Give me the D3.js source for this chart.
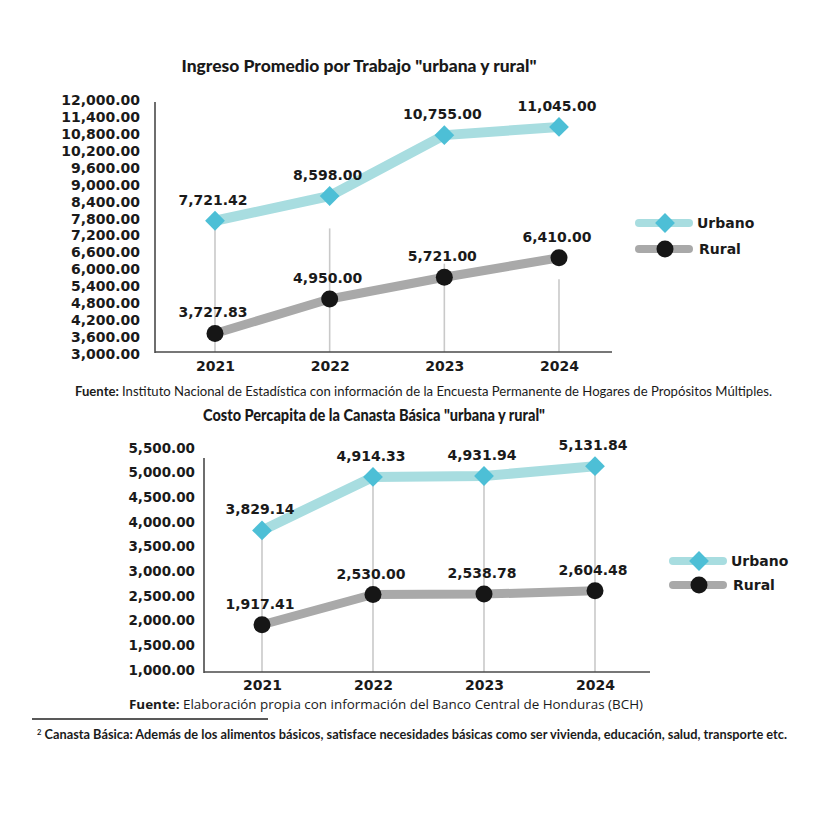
<!DOCTYPE html>
<html><head><meta charset="utf-8">
<script src="https://cdn.jsdelivr.net/npm/d3@7"></script>
<style>body{margin:0;background:#fff}svg{display:block}</style>
</head><body><svg id="c" width="828" height="829"></svg>
<script>
// ---- data ----
const years = ["2021", "2022", "2023", "2024"];
const seriesNames = ["Urbano", "Rural"];

const ingresoUrbano = [7721.42, 8598.00, 10755.00, 11045.00];
const ingresoRural = [3727.83, 4950.00, 5721.00, 6410.00];
const ingresoTicks = [3000, 3600, 4200, 4800, 5400, 6000, 6600, 7200, 7800, 8400, 9000, 9600, 10200, 10800, 11400, 12000];
const ingresoDropTop = [7721.42, 7450, 6200, 5650];

const canastaUrbano = [3829.14, 4914.33, 4931.94, 5131.84];
const canastaRural = [1917.41, 2530.00, 2538.78, 2604.48];
const canastaTicks = [1000, 1500, 2000, 2500, 3000, 3500, 4000, 4500, 5000, 5500];

const titleIngreso = 'Ingreso Promedio por Trabajo "urbana y rural"';
const titleCanasta = 'Costo Percapita de la Canasta Básica "urbana y rural"';
const fuente1 = "Instituto Nacional de Estadística con información de la Encuesta Permanente de Hogares de Propósitos Múltiples.";
const fuente2 = "Elaboración propia con información del Banco Central de Honduras (BCH)";
const nota = "Canasta Básica: Además de los alimentos básicos, satisface necesidades básicas como ser vivienda, educación, salud, transporte etc.";

// ---- styles ----
const C = {
  urbLine: "#a8dde0", urbMark: "#4dbfd6",
  rurLine: "#a9a9a9", rurMark: "#161616",
  axis: "#4a4a4a", drop: "#c9c9c9", text: "#1a1a1a"
};
const numFont = "'DejaVu Sans', sans-serif";
const fmt = d3.format(",.2f");
const svg = d3.select("#c");

function diamond(g, x, y, s) {
  g.append("rect").attr("x", -s / 2).attr("y", -s / 2).attr("width", s).attr("height", s)
    .attr("fill", C.urbMark)
    .attr("transform", `translate(${x},${y}) rotate(45)`);
}

function drawChart(o) {
  const g = svg.append("g");
  const x = d3.scalePoint().domain(years).range(o.xr);
  const y = d3.scaleLinear().domain(o.yd).range(o.yr);

  // title
  g.append("text").attr("x", o.title.x).attr("y", o.title.y)
    .attr("text-anchor", "middle").attr("font-family", "Lato, sans-serif")
    .attr("font-weight", 900).attr("font-size", 16).attr("fill", C.text)
    .attr("textLength", o.title.w).attr("lengthAdjust", "spacingAndGlyphs")
    .text(o.title.text);

  // drop lines
  g.selectAll(".drop").data(years).join("line")
    .attr("x1", d => x(d)).attr("x2", d => x(d))
    .attr("y1", (d, i) => y(o.dropTop[i])).attr("y2", o.axisY)
    .attr("stroke", C.drop).attr("stroke-width", 1.6);

  // y axis
  const ya = g.append("g").attr("transform", `translate(${o.axisX},0)`)
    .call(d3.axisLeft(y).tickValues(o.ticks).tickFormat(fmt).tickSize(0).tickPadding(o.tickPad));
  ya.select(".domain").remove();
  ya.selectAll("text").attr("font-family", numFont).attr("font-weight", 700)
    .attr("font-size", o.tickFs).attr("fill", C.text);
  g.append("line").attr("x1", o.axisX).attr("x2", o.axisX).attr("y1", o.axisTop).attr("y2", o.axisY + 1)
    .attr("stroke", C.axis).attr("stroke-width", 1.6);

  // x axis
  const xa = g.append("g").attr("transform", `translate(0,${o.axisY})`)
    .call(d3.axisBottom(x).tickSize(0).tickPadding(o.xPad));
  xa.select(".domain").remove();
  xa.selectAll("text").attr("font-family", numFont).attr("font-weight", 700)
    .attr("font-size", 14).attr("fill", C.text);
  g.append("line").attr("x1", o.axisX).attr("x2", o.axisRight).attr("y1", o.axisY).attr("y2", o.axisY)
    .attr("stroke", C.axis).attr("stroke-width", 1.6);

  const line = d3.line().x((d, i) => x(years[i])).y(d => y(d));
  g.append("path").datum(o.rural).attr("d", line).attr("fill", "none")
    .attr("stroke", C.rurLine).attr("stroke-width", 9).attr("stroke-linejoin", "round");
  g.append("path").datum(o.urban).attr("d", line).attr("fill", "none")
    .attr("stroke", C.urbLine).attr("stroke-width", 10).attr("stroke-linejoin", "round");

  o.rural.forEach((v, i) => {
    g.append("circle").attr("cx", x(years[i])).attr("cy", y(v)).attr("r", 8.5).attr("fill", C.rurMark);
  });
  o.urban.forEach((v, i) => diamond(g, x(years[i]), y(v), 14));

  const lab = (arr) => arr.forEach((v, i) => {
    g.append("text").attr("x", x(years[i]) - 2).attr("y", y(v) - 16)
      .attr("text-anchor", "middle").attr("font-family", numFont).attr("font-weight", 700)
      .attr("font-size", 14).attr("fill", C.text).text(fmt(v));
  });
  lab(o.urban); lab(o.rural);

  const lg = g.append("g");
  seriesNames.forEach((name, i) => {
    const ly = o.leg.y + i * o.leg.dy;
    lg.append("line").attr("x1", o.leg.x).attr("x2", o.leg.x + 50).attr("y1", ly).attr("y2", ly)
      .attr("stroke", i === 0 ? C.urbLine : C.rurLine).attr("stroke-width", 8).attr("stroke-linecap", "round");
    if (i === 0) diamond(lg, o.leg.x + 26, ly, 14);
    else lg.append("circle").attr("cx", o.leg.x + 26).attr("cy", ly).attr("r", 8.5).attr("fill", C.rurMark);
    lg.append("text").attr("x", o.leg.x + 58 + i * 2).attr("y", ly + 5)
      .attr("font-family", numFont).attr("font-weight", 700).attr("font-size", 14)
      .attr("fill", C.text).text(name);
  });
}

drawChart({
  xr: [215, 559], yd: [3000, 12000], yr: [354, 100],
  axisX: 155, axisY: 352, axisTop: 102, axisRight: 612, tickPad: 15, tickFs: 14, xPad: 9,
  ticks: ingresoTicks, urban: ingresoUrbano, rural: ingresoRural, dropTop: ingresoDropTop,
  title: { text: titleIngreso, x: 359, y: 72, w: 355 },
  leg: { x: 639, y: 223, dy: 26 }
});

drawChart({
  xr: [262, 595], yd: [1000, 5500], yr: [670, 448],
  axisX: 204, axisY: 672, axisTop: 458, axisRight: 650, tickPad: 9, tickFs: 13.5, xPad: 8,
  ticks: canastaTicks, urban: canastaUrbano, rural: canastaRural, dropTop: canastaUrbano,
  title: { text: titleCanasta, x: 374, y: 421, w: 342 },
  leg: { x: 673, y: 561, dy: 24 }
});

function srcText(x, y, w, fam, fs, bold, rest, boldWeight, restWeight) {
  const t = svg.append("text").attr("x", x).attr("y", y).attr("font-family", fam)
    .attr("font-size", fs).attr("fill", C.text)
    .attr("textLength", w).attr("lengthAdjust", "spacingAndGlyphs");
  if (bold) t.append("tspan").attr("font-weight", boldWeight).text(bold);
  t.append("tspan").attr("font-weight", restWeight).text(rest);
  return t;
}
srcText(75, 396, 697, "Lato, sans-serif", 13.5, "Fuente: ", fuente1, 700, 400);
srcText(129, 709, 514, "'Open Sans', sans-serif", 13, "Fuente:  ", fuente2, 700, 400);

svg.append("line").attr("x1", 32).attr("x2", 268).attr("y1", 719).attr("y2", 719)
  .attr("stroke", "#222").attr("stroke-width", 1.3);
const nt = svg.append("text").attr("x", 37).attr("y", 739).attr("font-family", "Lato, sans-serif")
  .attr("font-size", 13.5).attr("font-weight", 700).attr("fill", C.text)
  .attr("textLength", 750).attr("lengthAdjust", "spacingAndGlyphs");
nt.append("tspan").attr("font-size", 8).attr("dy", -4).text("2");
nt.append("tspan").attr("dy", 4).text(" " + nota);
</script></body></html>
